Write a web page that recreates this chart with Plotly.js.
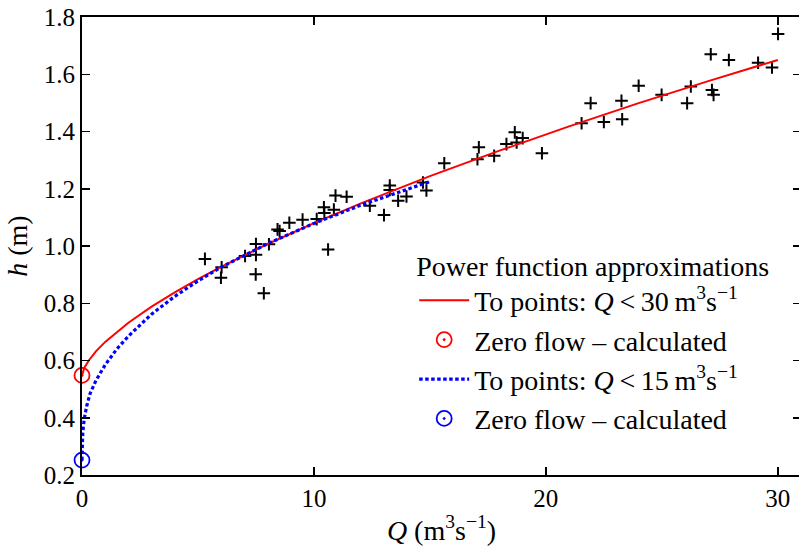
<!DOCTYPE html>
<html>
<head>
<meta charset="utf-8">
<script src="https://cdn.plot.ly/plotly-3.0.1.min.js"></script>
<style>
html, body { margin: 0; padding: 0; overflow: hidden; background: #fff; }
#chart { width: 810px; height: 546px; }
</style>
</head>
<body>
<div id="chart"></div>
<script>
// Measured points (Q in m3/s, h in m)
const pointsQ = [5.30, 6.02, 5.99, 7.03, 7.50, 7.50, 7.49, 7.84, 8.06, 8.43, 8.52, 8.94, 9.51, 10.12, 10.43, 10.45, 10.86, 10.61, 10.93, 11.41, 12.41, 13.02, 13.27, 13.27, 13.63, 13.99, 14.70, 14.85, 15.62, 17.11, 17.05, 17.77, 18.30, 18.66, 18.74, 19.00, 19.83, 21.54, 21.93, 22.50, 23.26, 23.29, 24.00, 24.99, 26.25, 26.09, 27.11, 27.16, 27.23, 27.89, 29.15, 29.75, 30.01];
const pointsH = [0.955, 0.926, 0.889, 0.965, 1.007, 0.969, 0.901, 0.835, 1.006, 1.058, 1.052, 1.081, 1.092, 1.094, 1.135, 1.115, 1.127, 0.988, 1.176, 1.172, 1.141, 1.108, 1.211, 1.196, 1.158, 1.173, 1.222, 1.194, 1.289, 1.345, 1.303, 1.315, 1.356, 1.397, 1.362, 1.377, 1.324, 1.429, 1.499, 1.433, 1.507, 1.443, 1.560, 1.528, 1.557, 1.499, 1.670, 1.545, 1.528, 1.650, 1.640, 1.624, 1.741];

// Power-function curve, fitted to points with Q < 30
const fit30Q = [0, 0.1, 0.3, 0.6, 1, 1.5, 2, 3, 4, 5, 6, 8, 10, 12, 15, 18, 21, 24, 27, 30];
const fit30H = [0.548, 0.575, 0.601, 0.632, 0.665, 0.700, 0.732, 0.788, 0.838, 0.884, 0.927, 1.007, 1.080, 1.148, 1.244, 1.333, 1.418, 1.499, 1.576, 1.650];

// Power-function curve, fitted to points with Q < 15
const fit15Q = [0, 0.01, 0.03, 0.06, 0.1, 0.2, 0.35, 0.6, 1, 1.5, 2, 3, 4, 5, 6, 8, 10, 12, 14, 15];
const fit15H = [0.252, 0.305, 0.340, 0.370, 0.398, 0.440, 0.485, 0.530, 0.585, 0.640, 0.685, 0.762, 0.824, 0.878, 0.926, 1.008, 1.079, 1.142, 1.198, 1.225];

// Zero-flow stage, calculated
const zeroQ = [0];
const zero30H = [0.548];
const zero15H = [0.252];

const xTicks = [0, 10, 20, 30];
const yTicks = [0.2, 0.4, 0.6, 0.8, 1.0, 1.2, 1.4, 1.6, 1.8];
const yTickText = ['0.2', '0.4', '0.6', '0.8', '1.0', '1.2', '1.4', '1.6', '1.8'];

const traces = [
  {
    x: pointsQ, y: pointsH, type: 'scatter', mode: 'markers', showlegend: false,
    marker: { symbol: 'cross-thin', size: 9, color: 'black', line: { color: 'black', width: 2 } },
    hoverinfo: 'skip'
  },
  {
    x: fit30Q, y: fit30H, type: 'scatter', mode: 'lines',
    name: 'To points: <i>Q</i>&#8201;&lt;&#8201;30&#8201;m<sup>3</sup>s<sup>\u22121</sup>',
    line: { color: '#ff0000', width: 2 }
  },
  {
    x: zeroQ, y: zero30H, type: 'scatter', mode: 'markers', cliponaxis: false,
    name: 'Zero flow \u2013 calculated',
    marker: { symbol: 'circle-open-dot', size: 15, color: '#ff0000', line: { color: '#ff0000', width: 1.8 } }
  },
  {
    x: fit15Q, y: fit15H, type: 'scatter', mode: 'lines',
    name: 'To points: <i>Q</i>&#8201;&lt;&#8201;15&#8201;m<sup>3</sup>s<sup>\u22121</sup>',
    line: { color: '#0000ff', width: 3.2, dash: '3.5px,2.5px' }
  },
  {
    x: zeroQ, y: zero15H, type: 'scatter', mode: 'markers', cliponaxis: false,
    name: 'Zero flow \u2013 calculated',
    marker: { symbol: 'circle-open-dot', size: 15, color: '#0000ff', line: { color: '#0000ff', width: 1.8 } }
  }
];

const layout = {
  width: 810, height: 546,
  margin: { l: 82, r: 9, t: 17, b: 71 },
  paper_bgcolor: '#ffffff', plot_bgcolor: '#ffffff',
  font: { family: 'Liberation Serif', size: 25, color: '#000000' },
  showlegend: true,
  xaxis: {
    range: [0, 31], tickvals: xTicks, ticktext: xTicks.map(String),
    ticks: 'inside', ticklen: 8, tickwidth: 1.5, tickcolor: 'black',
    showline: true, linewidth: 2, linecolor: 'black', mirror: 'ticks',
    showgrid: false, zeroline: false,
    tickfont: { size: 25 },
    title: { text: '<i>Q</i> (m<sup>3</sup>s<sup>\u22121</sup>)', font: { size: 28 }, standoff: 14 }
  },
  yaxis: {
    range: [0.2, 1.8], tickvals: yTicks, ticktext: yTickText,
    ticks: 'inside', ticklen: 8, tickwidth: 1.5, tickcolor: 'black',
    showline: true, linewidth: 2, linecolor: 'black', mirror: 'ticks',
    showgrid: false, zeroline: false,
    tickfont: { size: 25 },
    title: { text: '<i>h</i> (m)', font: { size: 28 }, standoff: 8 }
  },
  legend: {
    x: 0.462, y: 0.515, xanchor: 'left', yanchor: 'top',
    bgcolor: 'rgba(255,255,255,0)', borderwidth: 0,
    font: { size: 28 },
    title: { text: 'Power function approximations', font: { size: 28 } },
    itemwidth: 50
  }
};

Plotly.newPlot('chart', traces, layout, { staticPlot: true, displayModeBar: false });
</script>
</body>
</html>
